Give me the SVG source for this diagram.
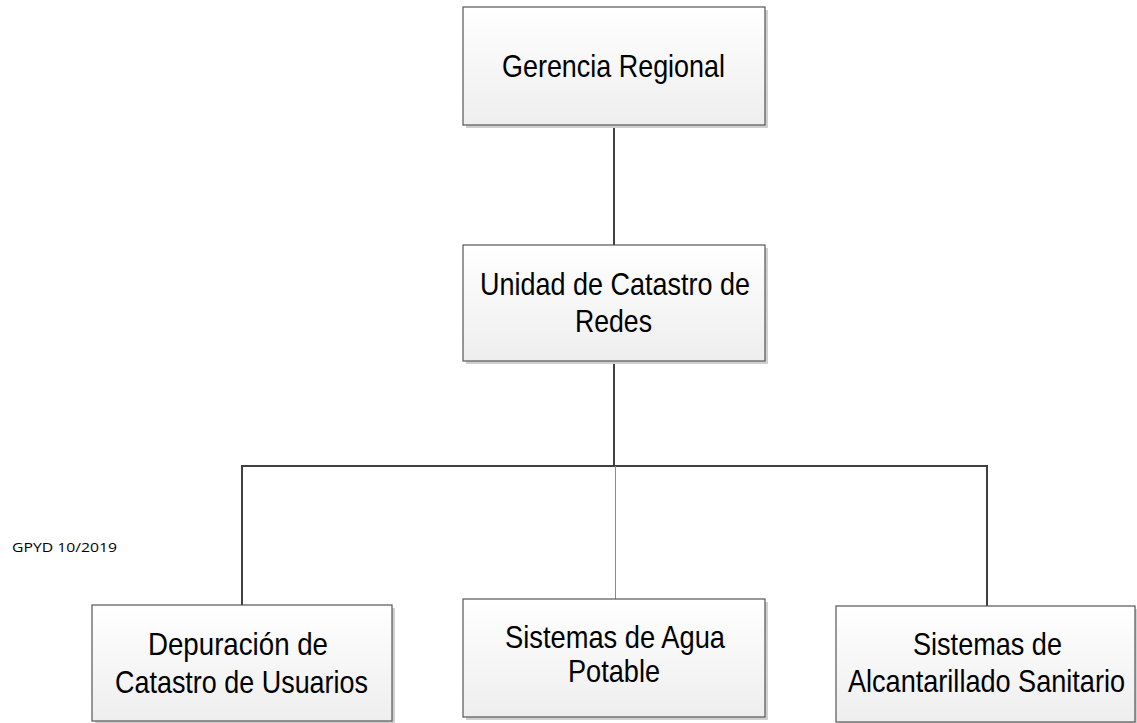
<svg xmlns="http://www.w3.org/2000/svg" width="1137" height="723" viewBox="0 0 1137 723">
<style>
.box{fill:url(#g);stroke:#555;stroke-width:1.2}
.sh{fill:#d0d0d0}
.t{font-family:"Liberation Sans",Arial,sans-serif;font-size:27px;fill:#000}
.c{stroke:#404040;stroke-width:2;fill:none}
.c2{stroke:#8a8a8a;stroke-width:1;fill:none}
.note{font-family:"Open Sans","Noto Sans",sans-serif;font-size:13px;fill:#000}
</style>
<defs>
<linearGradient id="g" x1="0" y1="0" x2="0" y2="1">
<stop offset="0" stop-color="#ffffff"/>
<stop offset="1" stop-color="#eeeeee"/>
</linearGradient>
</defs>
<rect width="1137" height="723" fill="#fff"/>
<g id="connectors">
<line class="c" x1="614" y1="125" x2="614" y2="245"/>
<line class="c" x1="614" y1="361" x2="614" y2="466"/>
<line class="c" x1="241" y1="466" x2="988" y2="466"/>
<line class="c" x1="242" y1="466" x2="242" y2="605"/>
<line class="c" x1="987" y1="466" x2="987" y2="606"/>
<line class="c2" x1="615.5" y1="466" x2="615.5" y2="599"/>
</g>
<g id="n1">
<rect class="sh" x="466" y="10" width="302" height="118"/>
<rect class="box" x="463" y="7" width="302" height="118"/>
<text class="t" transform="translate(502,77) scale(1,1.15)" textLength="223" lengthAdjust="spacingAndGlyphs">Gerencia Regional</text>
</g>
<g id="n2">
<rect class="sh" x="466" y="248" width="302" height="116"/>
<rect class="box" x="463" y="245" width="302" height="116"/>
<text class="t" transform="translate(480,295) scale(1,1.15)" textLength="270" lengthAdjust="spacingAndGlyphs">Unidad de Catastro de</text>
<text class="t" transform="translate(575,332) scale(1,1.15)" textLength="77" lengthAdjust="spacingAndGlyphs">Redes</text>
</g>
<g id="n3">
<rect class="sh" x="95" y="608" width="300" height="116"/>
<rect class="box" x="92" y="605" width="300" height="116"/>
<text class="t" transform="translate(148,655) scale(1,1.15)" textLength="180" lengthAdjust="spacingAndGlyphs">Depuración de</text>
<text class="t" transform="translate(115,693) scale(1,1.15)" textLength="253" lengthAdjust="spacingAndGlyphs">Catastro de Usuarios</text>
</g>
<g id="n4">
<rect class="sh" x="466" y="602" width="302" height="118"/>
<rect class="box" x="463" y="599" width="302" height="118"/>
<text class="t" transform="translate(505,648) scale(1,1.15)" textLength="220" lengthAdjust="spacingAndGlyphs">Sistemas de Agua</text>
<text class="t" transform="translate(568,682) scale(1,1.15)" textLength="92" lengthAdjust="spacingAndGlyphs">Potable</text>
</g>
<g id="n5">
<rect class="sh" x="839" y="609" width="300" height="116"/>
<rect class="box" x="836" y="606" width="299" height="116"/>
<text class="t" transform="translate(913,655) scale(1,1.15)" textLength="149" lengthAdjust="spacingAndGlyphs">Sistemas de</text>
<text class="t" transform="translate(848,692) scale(1,1.15)" textLength="277" lengthAdjust="spacingAndGlyphs">Alcantarillado Sanitario</text>
</g>
<text class="note" x="12" y="552" textLength="105" lengthAdjust="spacingAndGlyphs">GPYD 10/2019</text>
</svg>
